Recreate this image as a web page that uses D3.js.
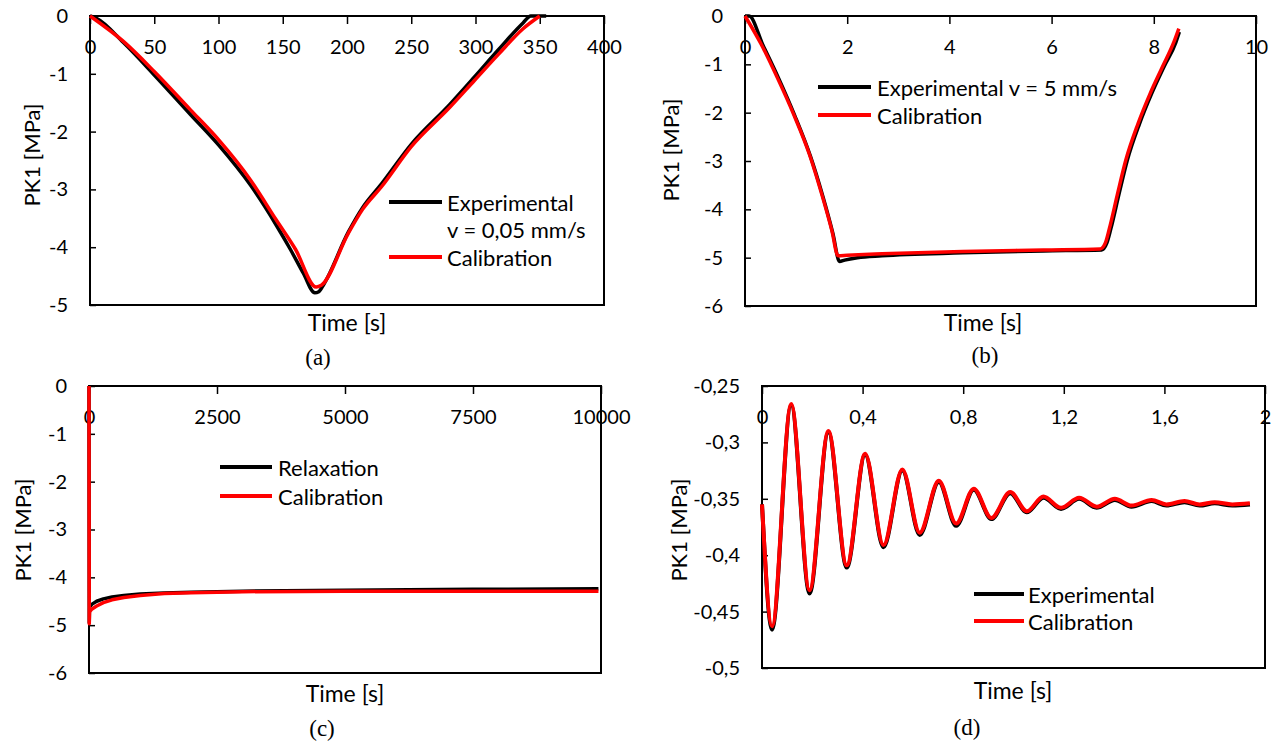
<!DOCTYPE html>
<html><head><meta charset="utf-8">
<script src="https://cdn.jsdelivr.net/npm/d3@7"></script>
<style>
body{margin:0;background:#fff}
svg text{font-family:Lato,'Open Sans',sans-serif;fill:#000}
</style>
</head><body>
<svg id="chart" width="1272" height="743"></svg>
<script>
// ---------- Panel (a) ----------
const aXTicks = [0,50,100,150,200,250,300,350,400];
const aXTickLabels = ["0","50","100","150","200","250","300","350","400"];
const aYTicks = [0,-1,-2,-3,-4,-5];
const aYTickLabels = ["0","-1","-2","-3","-4","-5"];
const aExpTime = [0,5,26,50,78,100,125,145,156,166,175,178,182,201,212,227,250,280,299,318,337,343,350,355];
const aExpVal  = [0,-0.04,-0.46,-1.02,-1.70,-2.23,-2.93,-3.62,-4.04,-4.45,-4.79,-4.77,-4.64,-3.74,-3.32,-2.90,-2.22,-1.53,-1.06,-0.58,-0.12,0,0,0];
const aCalTime = [0,26,50,78,100,125,145,160,176,180,201,212,227,250,280,299,318,337,350];
const aCalVal  = [0,-0.44,-0.96,-1.62,-2.14,-2.84,-3.53,-4.04,-4.69,-4.66,-3.76,-3.35,-2.95,-2.26,-1.58,-1.12,-0.66,-0.22,0];

// ---------- Panel (b) ----------
const bXTicks = [0,2,4,6,8,10];
const bXTickLabels = ["0","2","4","6","8","10"];
const bYTicks = [0,-1,-2,-3,-4,-5,-6];
const bYTickLabels = ["0","-1","-2","-3","-4","-5","-6"];
const bExpTime = [0,0.08,0.35,0.65,0.97,1.28,1.52,1.72,1.85,1.95,2.2,2.68,4.26,5.84,6.98,7.08,7.16,7.32,7.48,7.72,7.96,8.20,8.43,8.50];
const bExpVal  = [0,0,-0.60,-1.27,-2.05,-2.90,-3.72,-4.50,-5.08,-5.05,-5.00,-4.96,-4.90,-4.86,-4.84,-4.70,-4.40,-3.68,-2.99,-2.23,-1.60,-1.05,-0.55,-0.33];
const bCalTime = [0,0.32,0.63,0.95,1.26,1.50,1.70,1.82,2.0,2.68,4.26,5.84,6.95,7.05,7.13,7.29,7.45,7.69,7.93,8.17,8.40,8.49];
const bCalVal  = [0,-0.59,-1.27,-2.03,-2.86,-3.68,-4.44,-4.96,-4.95,-4.92,-4.87,-4.84,-4.82,-4.70,-4.40,-3.68,-2.99,-2.23,-1.60,-1.05,-0.52,-0.26];

// ---------- Panel (c) ----------
const cXTicks = [0,2500,5000,7500,10000];
const cXTickLabels = ["0","2500","5000","7500","10000"];
const cYTicks = [0,-1,-2,-3,-4,-5,-6];
const cYTickLabels = ["0","-1","-2","-3","-4","-5","-6"];
const cExpTime = [0,5,10,60,150,280,450,680,1000,1470,2000,3000,5000,7500,9950];
const cExpVal  = [0,-4.95,-4.62,-4.56,-4.50,-4.45,-4.41,-4.38,-4.35,-4.33,-4.31,-4.29,-4.27,-4.25,-4.24];
const cCalTime = [0,5,10,60,150,280,450,680,1000,1470,2000,3000,5000,7500,9950];
const cCalVal  = [0,-4.97,-4.72,-4.66,-4.60,-4.53,-4.47,-4.42,-4.38,-4.34,-4.32,-4.30,-4.29,-4.29,-4.29];

// ---------- Panel (d) ----------
const dXTicks = [0,0.4,0.8,1.2,1.6,2];
const dXTickLabels = ["0","0,4","0,8","1,2","1,6","2"];
const dYTicks = [-0.25,-0.3,-0.35,-0.4,-0.45,-0.5];
const dYTickLabels = ["-0,25","-0,3","-0,35","-0,4","-0,45","-0,5"];
const dCalTime = [0.0,0.040,0.116,0.189,0.264,0.337,0.410,0.483,0.558,0.627,0.703,0.772,0.842,0.912,0.987,1.053,1.119,1.189,1.261,1.331,1.403,1.469,1.549,1.608,1.680,1.740,1.800,1.870,1.940];
const dCalVal  = [-0.355,-0.463,-0.266,-0.431,-0.290,-0.409,-0.310,-0.391,-0.324,-0.380,-0.334,-0.372,-0.341,-0.367,-0.344,-0.361,-0.348,-0.358,-0.349,-0.357,-0.350,-0.356,-0.351,-0.355,-0.352,-0.355,-0.353,-0.355,-0.354];
const dExpTime = [0.0,0.040,0.116,0.189,0.264,0.337,0.410,0.483,0.558,0.627,0.703,0.772,0.842,0.912,0.987,1.053,1.119,1.189,1.261,1.331,1.403,1.469,1.549,1.608,1.680,1.740,1.800,1.870,1.940];
const dExpVal  = [-0.355,-0.466,-0.267,-0.434,-0.291,-0.411,-0.311,-0.393,-0.325,-0.382,-0.335,-0.374,-0.342,-0.368,-0.345,-0.362,-0.349,-0.359,-0.350,-0.358,-0.351,-0.357,-0.352,-0.356,-0.353,-0.356,-0.354,-0.356,-0.355];

// ---------- Layout ----------
const panels = [
  {id:"a", box:{l:90,r:604,t:16,b:305}, xd:[0,400], yd:[0,-5],
   xt:aXTicks, xl:aXTickLabels, yt:aYTicks, yl:aYTickLabels,
   exp:[aExpTime,aExpVal], cal:[aCalTime,aCalVal],
   ylab:{x:31,y:155}, xlab:{x:347,y:322}, cap:{x:318,y:357},
   legend:{x1:389,x2:442,y1:202,y2:257,tx:447, lines:["Experimental","v = 0,05 mm/s"], extraY:229, cal:"Calibration"}},
  {id:"b", box:{l:745,r:1256,t:16,b:306}, xd:[0,10], yd:[0,-6],
   xt:bXTicks, xl:bXTickLabels, yt:bYTicks, yl:bYTickLabels,
   exp:[bExpTime,bExpVal], cal:[bCalTime,bCalVal],
   ylab:{x:670,y:150}, xlab:{x:983,y:322}, cap:{x:985,y:355},
   legend:{x1:818,x2:871,y1:87,y2:115,tx:877, lines:["Experimental v = 5 mm/s"], cal:"Calibration"}},
  {id:"c", box:{l:89,r:601,t:386,b:673}, xd:[0,10000], yd:[0,-6],
   xt:cXTicks, xl:cXTickLabels, yt:cYTicks, yl:cYTickLabels,
   exp:[cExpTime,cExpVal], cal:[cCalTime,cCalVal],
   ylab:{x:22,y:530}, xlab:{x:345,y:693}, cap:{x:322,y:728},
   legend:{x1:220,x2:272,y1:467,y2:496,tx:278, lines:["Relaxation"], cal:"Calibration"}},
  {id:"d", box:{l:762,r:1265,t:386,b:668}, xd:[0,2], yd:[-0.25,-0.5],
   xt:dXTicks, xl:dXTickLabels, yt:dYTicks, yl:dYTickLabels,
   exp:[dExpTime,dExpVal], cal:[dCalTime,dCalVal],
   ylab:{x:678,y:530}, xlab:{x:1013,y:690}, cap:{x:967,y:727},
   legend:{x1:974,x2:1024,y1:594,y2:621,tx:1028, lines:["Experimental"], cal:"Calibration"}}
];

const svg = d3.select("#chart");
svg.append("rect").attr("width",1272).attr("height",743).attr("fill","#fff");
const FS_TICK = 20, FS_TITLE = 23, FS_LEG = 22, FS_CAP = 23;

panels.forEach(p => {
  const B = p.box;
  const x = d3.scaleLinear().domain(p.xd).range([B.l,B.r]);
  const y = d3.scaleLinear().domain(p.yd).range([B.t,B.b]);
  const g = svg.append("g");

  const xa = g.append("g").attr("transform",`translate(0,${B.t})`)
    .call(d3.axisBottom(x).tickValues(p.xt).tickFormat((d,i)=>p.xl[i]).tickSizeInner(8).tickSizeOuter(0).tickPadding(16));
  xa.select(".domain").remove();
  xa.selectAll("line").attr("stroke","#000").attr("stroke-width",1.5);
  xa.selectAll("text").attr("font-size",FS_TICK).style("font-family","Lato,'Open Sans',sans-serif");

  const ya = g.append("g").attr("transform",`translate(${B.l},0)`)
    .call(d3.axisLeft(y).tickValues(p.yt).tickFormat((d,i)=>p.yl[i]).tickSizeInner(-6).tickSizeOuter(0).tickPadding(22));
  ya.select(".domain").remove();
  ya.selectAll("line").attr("stroke","#000").attr("stroke-width",1.5);
  ya.selectAll("text").attr("font-size",FS_TICK).style("font-family","Lato,'Open Sans',sans-serif");

  g.append("rect").attr("x",B.l).attr("y",B.t).attr("width",B.r-B.l).attr("height",B.b-B.t)
    .attr("fill","none").attr("stroke","#000").attr("stroke-width",2);

  const smooth = d3.line().x(d=>x(d[0])).y(d=>y(d[1])).curve(d3.curveMonotoneX);
  const straight = d3.line().x(d=>x(d[0])).y(d=>y(d[1])).curve(d3.curveLinear);
  const mk = pts => (p.id==="c") ? straight(pts) : smooth(pts);
  const sw = p.id==="d" ? 4 : 3.5;
  const expPts = p.exp[0].map((t,i)=>[t,p.exp[1][i]]);
  const calPts = p.cal[0].map((t,i)=>[t,p.cal[1][i]]);
  g.append("path").attr("d",mk(expPts)).attr("fill","none").attr("stroke","#000").attr("stroke-width",sw).attr("stroke-linejoin","round");
  g.append("path").attr("d",mk(calPts)).attr("fill","none").attr("stroke","#ff0000").attr("stroke-width",sw).attr("stroke-linejoin","round");

  g.append("text").attr("transform",`translate(${p.ylab.x},${p.ylab.y}) rotate(-90)`)
    .attr("text-anchor","middle").attr("dominant-baseline","central").attr("font-size",FS_LEG).text("PK1 [MPa]");
  g.append("text").attr("x",p.xlab.x).attr("y",p.xlab.y).attr("text-anchor","middle")
    .attr("dominant-baseline","central").attr("font-size",FS_TITLE).text("Time [s]");
  g.append("text").attr("x",p.cap.x).attr("y",p.cap.y).attr("text-anchor","middle")
    .attr("dominant-baseline","central").attr("font-size",FS_CAP).style("font-family","'Liberation Serif','Times New Roman',serif").text(`(${p.id})`);

  const L = p.legend;
  g.append("line").attr("x1",L.x1).attr("x2",L.x2).attr("y1",L.y1).attr("y2",L.y1).attr("stroke","#000").attr("stroke-width",4);
  g.append("line").attr("x1",L.x1).attr("x2",L.x2).attr("y1",L.y2).attr("y2",L.y2).attr("stroke","#ff0000").attr("stroke-width",4);
  g.append("text").attr("x",L.tx).attr("y",L.y1).attr("dominant-baseline","central").attr("font-size",FS_LEG).text(L.lines[0]);
  if (L.lines.length>1) g.append("text").attr("x",L.tx).attr("y",L.extraY).attr("dominant-baseline","central").attr("font-size",FS_LEG).text(L.lines[1]);
  g.append("text").attr("x",L.tx).attr("y",L.y2).attr("dominant-baseline","central").attr("font-size",FS_LEG).text(L.cal);
});
</script>
</body></html>
